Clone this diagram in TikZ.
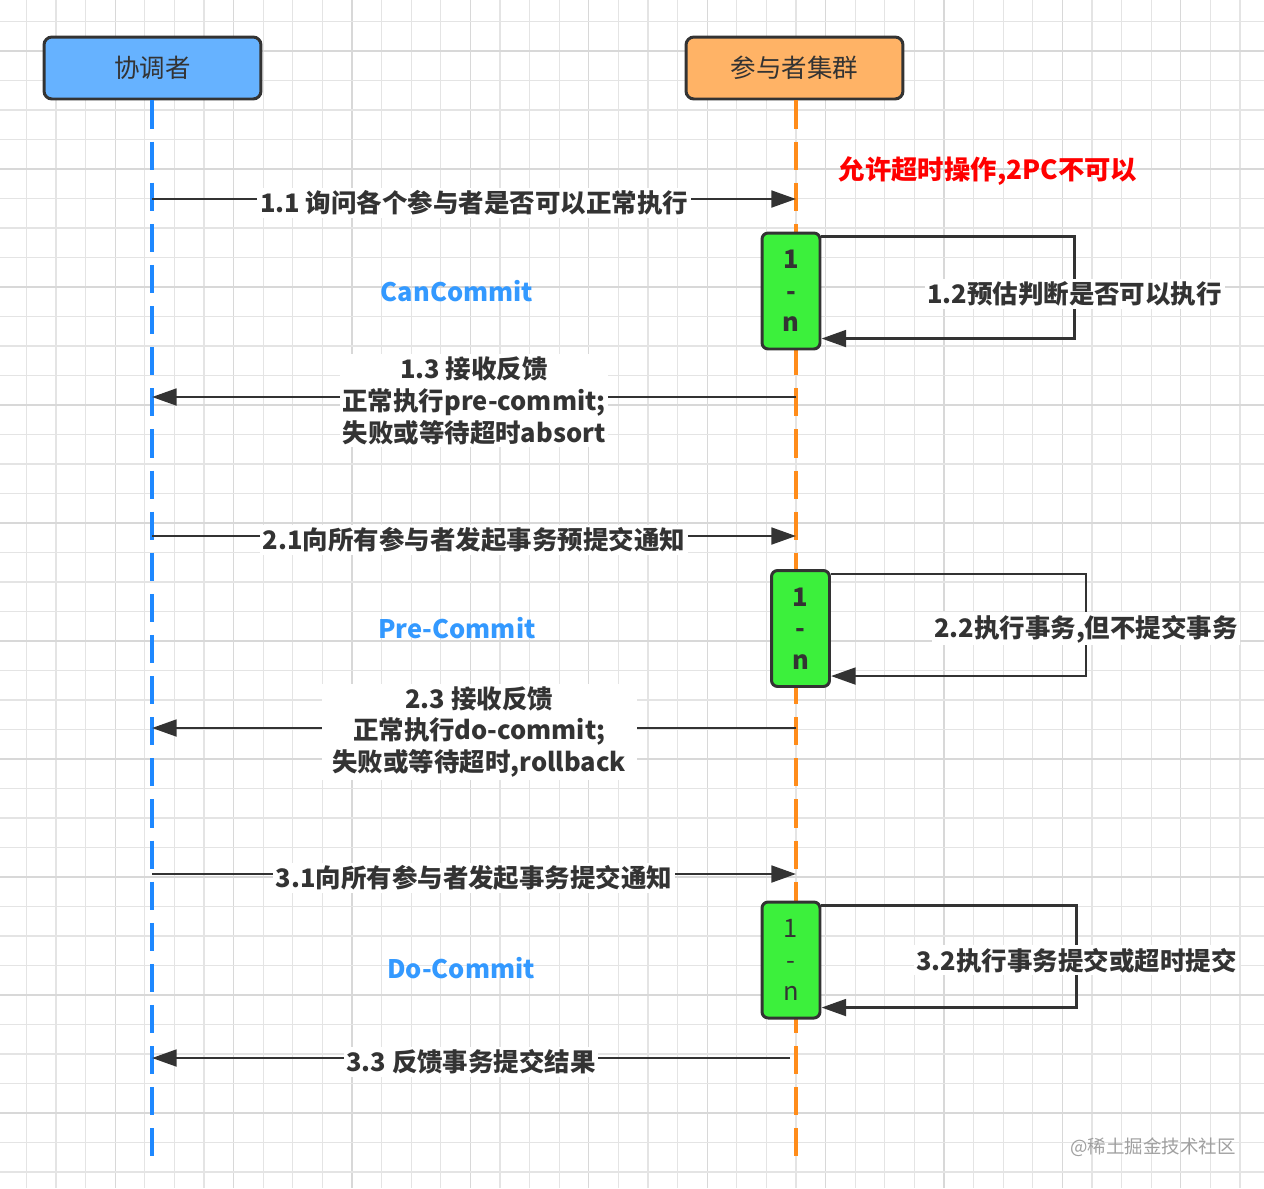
\documentclass[tikz,border=0pt]{standalone}
\usepackage{fontspec}
\setmainfont{Noto Sans CJK SC}
\usetikzlibrary{arrows.meta,positioning}
\tikzset{>={Triangle[length=14pt,width=9.5pt]}}
\definecolor{darkline}{HTML}{333333}
\definecolor{gridgray}{HTML}{E4E4E4}
\definecolor{gridstrong}{HTML}{D8D8D8}
\definecolor{coordblue}{HTML}{66B2FF}
\definecolor{lifeblue}{HTML}{1E88FF}
\definecolor{partorange}{HTML}{FFB366}
\definecolor{lifeorange}{HTML}{FF8C1A}
\definecolor{actgreen}{HTML}{3CF03C}
\definecolor{phaseblue}{HTML}{3399FF}
\definecolor{markgray}{HTML}{A0A0A0}

\begin{document}
\begin{tikzpicture}[x=0.02cm,y=-0.02cm,
  font=\fontsize{14.5}{18}\selectfont,
  gridline/.style={draw=gridgray,line width=0.6pt},
  gridbold/.style={draw=gridstrong,line width=0.7pt},
  header/.style={draw=darkline,line width=1.7pt,rounded corners=4.5pt,
                 minimum width=4.34cm,minimum height=1.24cm,text=darkline},
  life/.style={line width=2.8pt,dash pattern=on 16pt off 7.4pt},
  act/.style={draw=darkline,fill=actgreen,line width=1.7pt,rounded corners=3.5pt,
              minimum width=1.16cm,minimum height=2.32cm,align=center,
              text=darkline,inner sep=0pt},
  msg/.style={->,draw=darkline,line width=1.6pt},
  lbl/.style={fill=white,text=darkline,align=center,inner sep=1.5pt,yshift=-2.2pt,
              font=\fontsize{14.5}{18}\selectfont\bfseries},
  phase/.style={text=phaseblue,font=\fontsize{14.5}{18}\selectfont\bfseries}
  ]
  \useasboundingbox[fill=white] (0,0) rectangle (1264,1188);

  % background grid
  \foreach \i in {0,...,42}{
    \pgfmathtruncatemacro{\m}{mod(\i,4)}
    \ifnum\m=3 \draw[gridbold] ({26.4+29.6*\i},0) -- ++(0,1188);
    \else \draw[gridline] ({26.4+29.6*\i},0) -- ++(0,1188); \fi
  }
  \foreach \j in {0,...,40}{
    \pgfmathtruncatemacro{\m}{mod(\j,4)}
    \ifnum\m=1 \draw[gridbold] (0,{21.5+29.5*\j}) -- ++(1264,0);
    \else \draw[gridline] (0,{21.5+29.5*\j}) -- ++(1264,0); \fi
  }

  % participants
  \node[header,fill=coordblue] (coord) at (152.5,68) {协调者};
  \node[header,fill=partorange] (part) at (794.5,68) {参与者集群};

  % lifelines
  \coordinate (cEnd) at (152,1160);
  \coordinate (pEnd) at (796,1162);
  \draw[life,lifeblue] (coord.south -| cEnd) -- (cEnd);
  \draw[life,lifeorange] (part.south -| pEnd) -- (pEnd);

  \node[text=red,font=\fontsize{15}{18}\selectfont\bfseries] (note) at (988,171)
    {允许超时操作,2PC不可以};

  % phase 1
  \coordinate (c11) at (152,199);
  \coordinate (p11) at (796,199);
  \draw[msg] (c11) -- node[lbl] {1.1 询问各个参与者是否可以正常执行} (p11);
  \node[act,font=\fontsize{14.5}{18}\selectfont\bfseries] (act1) at (791,291) {1\\-\\n};
  \coordinate (a1in) at ([yshift=6.8pt]act1.south east);
  \draw[msg] ([yshift=-2.8pt]act1.north east) -- ++(253,0) coordinate (l1)
    -- node[lbl,yshift=-1.5pt] {1.2预估判断是否可以执行} (l1 |- a1in) -- (a1in);
  \node[phase] (can) at (457,291) {CanCommit};
  \coordinate (p13) at (796,397);
  \coordinate (c13) at (152,397);
  \draw[msg] (p13) -- node[lbl] {1.3 接收反馈\\正常执行pre-commit;\\失败或等待超时absort} (c13);

  % phase 2
  \coordinate (c21) at (152,536);
  \coordinate (p21) at (796,536);
  \draw[msg] (c21) -- node[lbl] {2.1向所有参与者发起事务预提交通知} (p21);
  \node[act,font=\fontsize{14.5}{18}\selectfont\bfseries] (act2) at (800.5,628.5) {1\\-\\n};
  \coordinate (a2in) at ([yshift=6.8pt]act2.south east);
  \draw[msg] ([yshift=-2.8pt]act2.north east) -- ++(255,0) coordinate (l2)
    -- node[lbl] {2.2执行事务,但不提交事务} (l2 |- a2in) -- (a2in);
  \node[phase] (pre) at (457,628) {Pre-Commit};
  \coordinate (p23) at (796,728);
  \coordinate (c23) at (152,728);
  \draw[msg] (p23) -- node[lbl,inner xsep=6pt,xshift=3pt] {2.3 接收反馈\\正常执行do-commit;\\失败或等待超时,rollback} (c23);

  % phase 3
  \coordinate (c31) at (152,874);
  \coordinate (p31) at (796,874);
  \draw[msg] (c31) -- node[lbl] {3.1向所有参与者发起事务提交通知} (p31);
  \node[act] (act3) at (791,960) {1\\-\\n};
  \coordinate (a3in) at ([yshift=6.8pt]act3.south east);
  \draw[msg] ([yshift=-2.8pt]act3.north east) -- ++(255,0) coordinate (l3)
    -- node[lbl] {3.2执行事务提交或超时提交} (l3 |- a3in) -- (a3in);
  \node[phase] (doc) at (461,968) {Do-Commit};
  \coordinate (p33) at (790,1058);
  \coordinate (c33) at (152,1058);
  \draw[msg] (p33) -- node[lbl] {3.3 反馈事务提交结果} (c33);

  \node[text=markgray,font=\fontsize{10.5}{12}\selectfont] (mark) at (1153,1147)
    {@稀土掘金技术社区};
\end{tikzpicture}
\end{document}
